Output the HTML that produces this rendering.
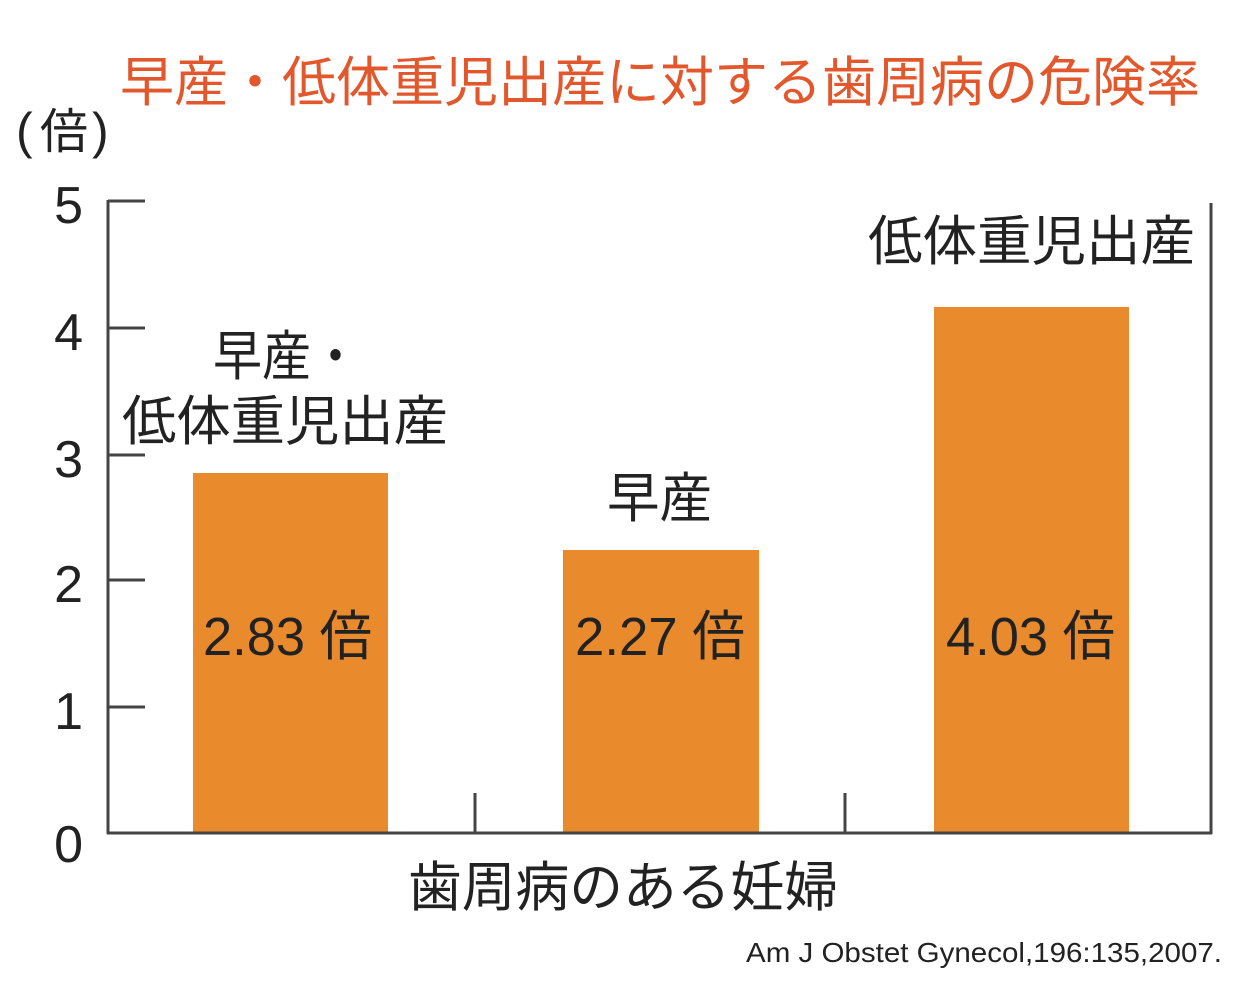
<!DOCTYPE html>
<html><head><meta charset="utf-8"><style>
html,body{margin:0;padding:0;background:#fff;}
svg{display:block;}
text{font-family:"Liberation Sans","Noto Sans CJK JP",sans-serif;}
</style></head><body>
<svg width="1246" height="988" viewBox="0 0 1246 988" xmlns="http://www.w3.org/2000/svg">
<text x="120" y="101" font-size="54" fill="#E2572B" textLength="1080" lengthAdjust="spacingAndGlyphs">早産・低体重児出産に対する歯周病の危険率</text>
<g fill="#222">
<text x="16" y="148" font-size="50">(</text>
<text x="40" y="148" font-size="48">倍</text>
<text x="92" y="148" font-size="50">)</text>
</g>
<g fill="#E98A2D">
<rect x="193" y="473" width="195" height="360"/>
<rect x="563" y="550" width="196" height="283"/>
<rect x="934" y="307" width="195" height="526"/>
</g>
<g stroke="#444" stroke-width="3" fill="none">
<line x1="108" y1="200" x2="108" y2="834"/>
<line x1="1211" y1="203" x2="1211" y2="834"/>
<line x1="107" y1="833" x2="1212" y2="833"/>
<line x1="108" y1="201" x2="145" y2="201"/>
<line x1="108" y1="328" x2="145" y2="328"/>
<line x1="108" y1="455" x2="145" y2="455"/>
<line x1="108" y1="580" x2="145" y2="580"/>
<line x1="108" y1="707" x2="145" y2="707"/>
<line x1="475" y1="793" x2="475" y2="833"/>
<line x1="845" y1="793" x2="845" y2="833"/>
</g>
<g font-size="52" fill="#222" text-anchor="end">
<text x="83" y="223">5</text>
<text x="83" y="350">4</text>
<text x="83" y="477">3</text>
<text x="83" y="602">2</text>
<text x="83" y="729">1</text>
<text x="83" y="862">0</text>
</g>
<g font-size="54" fill="#222">
<text x="213" y="375" textLength="147" lengthAdjust="spacingAndGlyphs">早産・</text>
<text x="122" y="440" textLength="326" lengthAdjust="spacingAndGlyphs">低体重児出産</text>
<text x="607" y="517" textLength="105" lengthAdjust="spacingAndGlyphs">早産</text>
<text x="868" y="260" textLength="327" lengthAdjust="spacingAndGlyphs">低体重児出産</text>
</g>
<g font-size="54" fill="#222">
<text x="203" y="655" textLength="169" lengthAdjust="spacingAndGlyphs">2.83 倍</text>
<text x="575" y="655" textLength="170" lengthAdjust="spacingAndGlyphs">2.27 倍</text>
<text x="946" y="655" textLength="169" lengthAdjust="spacingAndGlyphs">4.03 倍</text>
</g>
<text x="408" y="906" font-size="54" fill="#222" textLength="430" lengthAdjust="spacingAndGlyphs">歯周病のある妊婦</text>
<text x="746" y="962" font-size="28" fill="#222" textLength="476" lengthAdjust="spacingAndGlyphs">Am J Obstet Gynecol,196:135,2007.</text>
</svg>
</body></html>
